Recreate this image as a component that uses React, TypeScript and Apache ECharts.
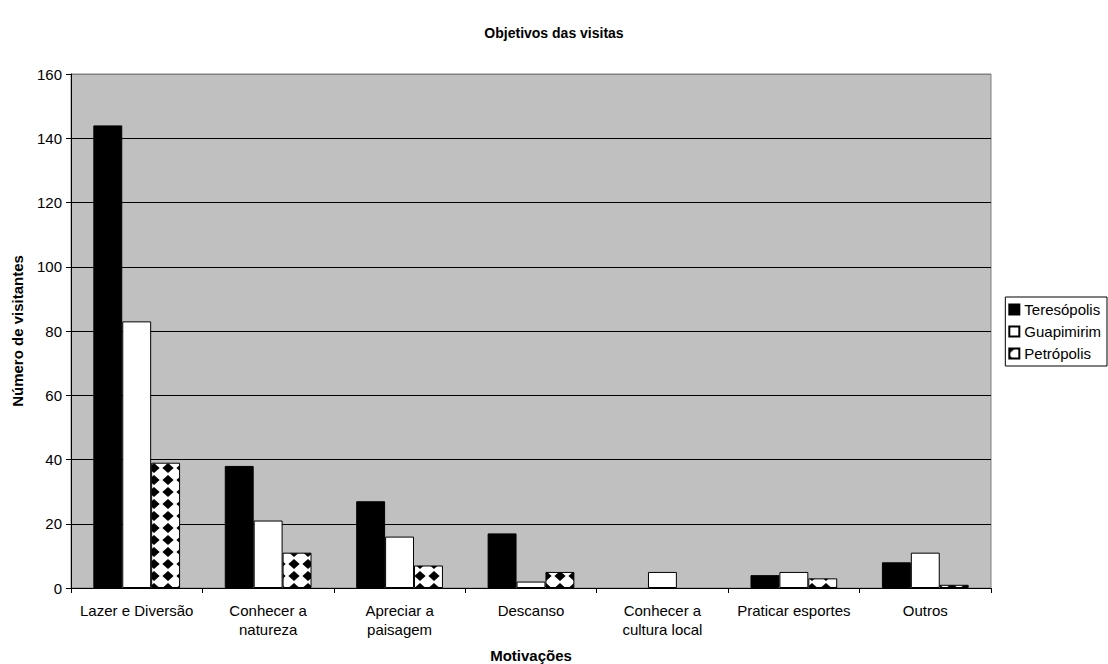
import React, { useEffect, useRef } from "react";
import * as echarts from "echarts";

const categories = [
  "Lazer e Diversão",
  "Conhecer a\nnatureza",
  "Apreciar a\npaisagem",
  "Descanso",
  "Conhecer a\ncultura local",
  "Praticar esportes",
  "Outros",
];
const teresopolis = [144, 38, 27, 17, 0, 4, 8];
const guapimirim = [83, 21, 16, 2, 5, 5, 11];
const petropolis = [39, 11, 7, 5, 0, 3, 1];
const seriesNames = ["Teresópolis", "Guapimirim", "Petrópolis"];

const FONT = "'Liberation Sans', Arial, sans-serif";

function makePattern(): HTMLCanvasElement {
  const w = 14;
  const h = 12;
  const c = document.createElement("canvas");
  c.width = w;
  c.height = h;
  const ctx = c.getContext("2d")!;
  ctx.fillStyle = "#000";
  ctx.fillRect(0, 0, w, h);
  ctx.fillStyle = "#fff";
  const e = 1.2;
  ctx.beginPath();
  ctx.moveTo(w / 2, -e);
  ctx.lineTo(w + e, h / 2);
  ctx.lineTo(w / 2, h + e);
  ctx.lineTo(-e, h / 2);
  ctx.closePath();
  ctx.fill();
  return c;
}

const noZero = (arr: number[]) => arr.map((v) => (v === 0 ? null : v));

export default function App() {
  const ref = useRef<HTMLDivElement>(null);
  useEffect(() => {
    if (!ref.current) return;
    const chart = echarts.init(ref.current, null, { renderer: "svg" });
    const pattern = { image: makePattern(), repeat: "repeat" } as any;
    const splitColors = ["#000", "#000", "#000", "#000", "#000", "#000", "#000", "#000", "#808080"];
    chart.setOption({
      animation: false,
      backgroundColor: "#fff",
      textStyle: { fontFamily: FONT },
      title: {
        text: "Objetivos das visitas",
        left: "center",
        top: 21,
        textStyle: { fontFamily: FONT, fontSize: 14, fontWeight: "bold", color: "#000" },
      },
      legend: {
        orient: "vertical",
        right: 1,
        top: 297,
        borderColor: "#000",
        borderWidth: 1,
        padding: [4, 6, 4, 3],
        itemWidth: 10,
        itemHeight: 10,
        itemGap: 5,
        icon: "rect",
        textStyle: { fontFamily: FONT, fontSize: 15, color: "#000", lineHeight: 17 },
        data: seriesNames,
      },
      grid: {
        left: 71,
        width: 920,
        top: 74,
        height: 514,
        outerBoundsMode: "none",
        containLabel: false,
        show: true,
        backgroundColor: "#C0C0C0",
        borderColor: "#808080",
        borderWidth: 1,
      },
      xAxis: {
        type: "category",
        data: categories,
        name: "Motivações",
        nameLocation: "middle",
        nameGap: 60,
        nameTextStyle: { fontFamily: FONT, fontSize: 15, fontWeight: "bold", color: "#000" },
        axisLine: { lineStyle: { color: "#000", width: 1 } },
        axisTick: { show: true, length: 5, lineStyle: { color: "#000" } },
        axisLabel: {
          interval: 0,
          margin: 13,
          fontFamily: FONT,
          fontSize: 15,
          lineHeight: 19,
          color: "#000",
        },
      },
      yAxis: {
        type: "value",
        min: 0,
        max: 160,
        interval: 20,
        name: "Número de visitantes",
        nameLocation: "middle",
        nameGap: 46,
        nameTextStyle: { fontFamily: FONT, fontSize: 15, fontWeight: "bold", color: "#000" },
        axisLine: { show: true, lineStyle: { color: "#000", width: 1 } },
        axisTick: { show: true, length: 5, inside: false, lineStyle: { color: "#000" } },
        axisLabel: { fontFamily: FONT, fontSize: 15, color: "#000", margin: 9 },
        splitLine: { show: true, lineStyle: { color: splitColors, width: 1 } },
      },
      series: [
        {
          name: seriesNames[0],
          type: "bar",
          data: noZero(teresopolis),
          barGap: "0%",
          barCategoryGap: "34%",
          itemStyle: { color: "#000", borderColor: "#000", borderWidth: 1 },
        },
        {
          name: seriesNames[1],
          type: "bar",
          data: noZero(guapimirim),
          barGap: "0%",
          barCategoryGap: "34%",
          itemStyle: { color: "#fff", borderColor: "#000", borderWidth: 1 },
        },
        {
          name: seriesNames[2],
          type: "bar",
          data: noZero(petropolis),
          barGap: "0%",
          barCategoryGap: "34%",
          itemStyle: { color: pattern, borderColor: "#000", borderWidth: 1 },
        },
      ],
    });
    return () => chart.dispose();
  }, []);
  return (
    <div
      ref={ref}
      style={{ position: "fixed", left: 0, top: 0, width: 1108, height: 664 }}
    />
  );
}
